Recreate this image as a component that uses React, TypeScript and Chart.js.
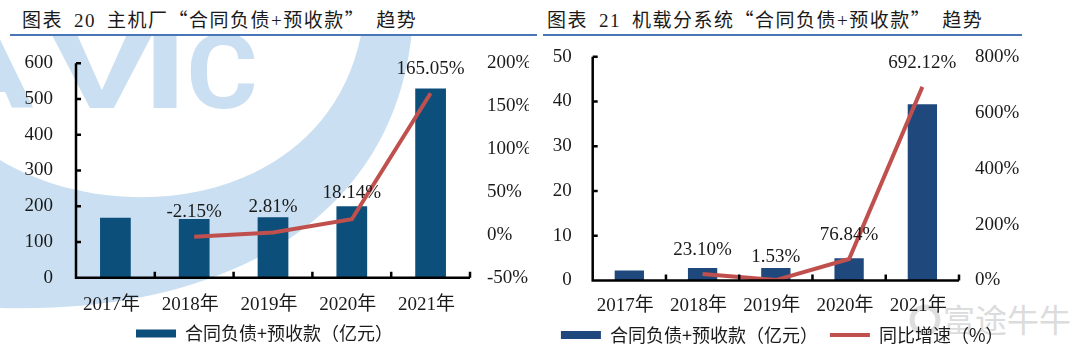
import { useEffect, useRef } from 'react';
import { Chart, registerables } from 'chart.js';

Chart.register(...registerables);

// ---------- data ----------
const years = ['2017年', '2018年', '2019年', '2020年', '2021年'];

const oemTitle = '主机厂';
const oemValues = [168.0, 164.4, 169.0, 199.7, 529.3];
const oemGrowth: (number | null)[] = [null, -2.15, 2.81, 18.14, 165.05];
const oemValueTicks = [0, 100, 200, 300, 400, 500, 600];
const oemGrowthTicks = [-50, 0, 50, 100, 150, 200];

const subTitle = '机载分系统';
const subValues = [2.25, 2.77, 2.81, 4.97, 39.4];
const subGrowth: (number | null)[] = [null, 23.1, 1.53, 76.84, 692.12];
const subValueTicks = [0, 10, 20, 30, 40, 50];
const subGrowthTicks = [0, 200, 400, 600, 800];

const barName = '合同负债+预收款（亿元）';
const lineName = '同比增速（%）';

// ---------- styles ----------
const SERIF = "'Liberation Serif', 'Noto Sans CJK SC', serif";
const CJK = "'Noto Sans CJK SC', sans-serif";
const TEXT = '#1a1a1a';
const LINE_RED = '#C0504D';

const framePlugin = {
  id: 'frame',
  afterDatasetsDraw(chart: any) {
    const { ctx, chartArea: a, scales } = chart;
    const x = scales.x;
    const y = scales.y;
    const n = chart.data.labels.length;
    const step = x.getPixelForValue(1) - x.getPixelForValue(0);
    const start = x.getPixelForValue(0) - step / 2;
    ctx.save();
    ctx.strokeStyle = '#000';
    ctx.lineWidth = 2.5;
    ctx.beginPath();
    ctx.moveTo(a.left, a.top);
    ctx.lineTo(a.left, a.bottom);
    ctx.lineTo(a.right, a.bottom);
    y.ticks.forEach((t: any) => {
      const py = y.getPixelForValue(t.value);
      ctx.moveTo(a.left, py);
      ctx.lineTo(a.left + 5, py);
    });
    for (let k = 1; k <= n; k++) {
      const px = start + k * step;
      ctx.moveTo(px, a.bottom);
      ctx.lineTo(px, a.bottom - 6);
    }
    ctx.stroke();
    ctx.restore();
  },
};

const labelPlugin = {
  id: 'growthLabels',
  afterDatasetsDraw(chart: any, _args: any, opts: any) {
    const { ctx, scales } = chart;
    const bars = chart.data.datasets[0].data;
    const growth = chart.data.datasets[1].data;
    ctx.save();
    ctx.font = `19px ${SERIF}`;
    ctx.fillStyle = TEXT;
    ctx.textAlign = 'center';
    ctx.textBaseline = 'middle';
    growth.forEach((v: number | null, i: number) => {
      if (v == null) return;
      const px = scales.x.getPixelForValue(i);
      const anchor = Math.min(scales.y.getPixelForValue(bars[i]), scales.y1.getPixelForValue(v));
      ctx.fillText(v.toFixed(2) + '%', px, anchor - (opts.lift?.[i] ?? 10));
    });
    ctx.restore();
  },
};

type Cfg = {
  values: number[];
  growth: (number | null)[];
  valueTicks: number[];
  growthTicks: number[];
  barColor: string;
  showLineLegend: boolean;
  pad: { top: number; right: number; bottom: number };
  yWidth: number;
  y1Width: number;
  yPad: number;
  y1Pad: number;
  xHeight: number;
  xPad: number;
  lift: number[];
  barPct: number;
};

const hiddenTicks = (len: number) => ({
  display: true,
  drawOnChartArea: false,
  drawTicks: true,
  tickLength: len,
  color: 'rgba(0,0,0,0)',
});

function makeConfig(c: Cfg): any {
  const tickFont = { family: SERIF, size: 19 };
  const vStep = c.valueTicks[1] - c.valueTicks[0];
  const gStep = c.growthTicks[1] - c.growthTicks[0];
  return {
    type: 'bar',
    data: {
      labels: years,
      datasets: [
        {
          type: 'bar',
          label: barName,
          data: c.values,
          backgroundColor: c.barColor,
          borderWidth: 0,
          yAxisID: 'y',
          order: 1,
          categoryPercentage: 1,
          barPercentage: c.barPct,
        },
        {
          type: 'line',
          label: lineName,
          data: c.growth,
          borderColor: LINE_RED,
          backgroundColor: LINE_RED,
          borderWidth: 4,
          pointRadius: 0,
          tension: 0,
          yAxisID: 'y1',
          order: 0,
        },
      ],
    },
    options: {
      responsive: false,
      animation: false,
      layout: { padding: { left: 0, top: c.pad.top, right: c.pad.right, bottom: c.pad.bottom } },
      scales: {
        x: {
          grid: { display: false, drawTicks: false },
          border: { display: false },
          ticks: { font: tickFont, color: TEXT, padding: c.xPad, maxRotation: 0, labelOffset: -4 },
          afterFit: (s: any) => {
            s.height = c.xHeight;
          },
        },
        y: {
          position: 'left',
          min: c.valueTicks[0],
          max: c.valueTicks[c.valueTicks.length - 1],
          grid: hiddenTicks(c.yPad),
          border: { display: false },
          ticks: { stepSize: vStep, font: tickFont, color: TEXT, padding: 0 },
          afterFit: (s: any) => {
            s.width = c.yWidth;
          },
        },
        y1: {
          position: 'right',
          min: c.growthTicks[0],
          max: c.growthTicks[c.growthTicks.length - 1],
          grid: hiddenTicks(c.y1Pad),
          border: { display: false },
          ticks: {
            stepSize: gStep,
            font: tickFont,
            color: TEXT,
            padding: 0,
            callback: (v: number) => v + '%',
          },
          afterFit: (s: any) => {
            s.width = c.y1Width;
          },
        },
      },
      plugins: {
        tooltip: { enabled: false },
        legend: {
          position: 'bottom',
          labels: {
            font: { family: CJK, size: 18 },
            color: TEXT,
            usePointStyle: true,
            pointStyleWidth: 40,
            boxHeight: 8,
            padding: 12,
            generateLabels: () => {
              const items: any[] = [
                {
                  text: barName,
                  fillStyle: c.barColor,
                  strokeStyle: c.barColor,
                  lineWidth: 0,
                  pointStyle: 'rect',
                  hidden: false,
                  datasetIndex: 0,
                  fontColor: TEXT,
                },
              ];
              if (c.showLineLegend) {
                items.push({
                  text: lineName,
                  fillStyle: LINE_RED,
                  strokeStyle: LINE_RED,
                  lineWidth: 4,
                  pointStyle: 'line',
                  hidden: false,
                  datasetIndex: 1,
                  fontColor: TEXT,
                });
              }
              return items;
            },
          },
        },
        growthLabels: { lift: c.lift },
      },
    },
    plugins: [framePlugin, labelPlugin],
  };
}

function ChartCanvas({ cfg, left }: { cfg: Cfg; left: number }) {
  const ref = useRef<HTMLCanvasElement>(null);
  useEffect(() => {
    if (!ref.current) return;
    const chart = new Chart(ref.current, makeConfig(cfg));
    return () => chart.destroy();
  }, []);
  return (
    <canvas
      ref={ref}
      width={540}
      height={321}
      style={{ position: 'absolute', left, top: 40, width: 540, height: 321 }}
    />
  );
}

const oemCfg: Cfg = {
  values: oemValues,
  growth: oemGrowth,
  valueTicks: oemValueTicks,
  growthTicks: oemGrowthTicks,
  barColor: '#0D4F7B',
  showLineLegend: false,
  pad: { top: 23.3, right: 11, bottom: 8.5 },
  yWidth: 76,
  y1Width: 59,
  yPad: 23,
  y1Pad: 17,
  xHeight: 34.8,
  xPad: 15.5,
  lift: [0, 7, 10, 13, 20],
  barPct: 0.39,
};

const subCfg: Cfg = {
  values: subValues,
  growth: subGrowth,
  valueTicks: subValueTicks,
  growthTicks: subGrowthTicks,
  barColor: '#1F497D',
  showLineLegend: true,
  pad: { top: 16.7, right: 55.6, bottom: 7 },
  yWidth: 52.7,
  y1Width: 65.4,
  yPad: 21,
  y1Pad: 16,
  xHeight: 33.5,
  xPad: 14,
  lift: [0, 18, 11, 23, 24],
  barPct: 0.4,
};

function Title({ num, name, left }: { num: string; name: string; left: number }) {
  const q = { fontFamily: CJK };
  return (
    <div
      style={{
        position: 'absolute',
        left,
        top: 8,
        height: 22,
        lineHeight: '22px',
        fontSize: 19,
        letterSpacing: 1.5,
        whiteSpace: 'nowrap',
        color: TEXT,
        fontFamily: CJK,
      }}
    >
      图表<span style={{ fontFamily: SERIF }}>{'\u2002' + num + '\u2002'}</span>
      {name}
      <span style={q}>“</span>合同负债<span style={{ fontFamily: SERIF }}>+</span>预收款<span style={q}>”</span>
      {'\u2002'}趋势
    </div>
  );
}

function Letter({ ch, cx, sx }: { ch: string; cx: number; sx: number }) {
  return (
    <text transform={`translate(${cx} 108) scale(${sx} 1)`} x={0} y={0}>
      {ch}
    </text>
  );
}

export default function App() {
  const wm = '#CADFF1';
  return (
    <div
      style={{
        position: 'absolute',
        left: 0,
        top: 0,
        width: 1080,
        height: 361,
        background: '#fff',
        overflow: 'hidden',
      }}
    >
      <svg width={1080} height={361} style={{ position: 'absolute', left: 0, top: 0 }}>
        <defs>
          <clipPath id="wmclip">
            <rect x={0} y={36} width={540} height={325} />
          </clipPath>
        </defs>
        <g clipPath="url(#wmclip)" fill={wm}>
          <path d="M 412 30 C 395 215 232 314 0 308 L 0 160 C 120 232 330 205 362 30 Z" />
          <g fontFamily="Roboto, 'DejaVu Sans', sans-serif" fontWeight={700} fontSize={104} textAnchor="middle">
            <Letter ch="A" cx={-12} sx={1.3} />
            <Letter ch="V" cx={102} sx={1.5} />
            <Letter ch="I" cx={165} sx={1.5} />
            <Letter ch="C" cx={222} sx={1.05} />
          </g>
        </g>
        <circle cx={925} cy={320} r={13} fill="none" stroke="#DEDEDE" strokeWidth={5} />
        <text x={943} y={332} fontFamily={CJK} fontSize={32} fill="#DCDCDC">
          富途牛牛
        </text>
      </svg>
      <Title num="20" name={oemTitle} left={22} />
      <Title num="21" name={subTitle} left={547} />
      <div style={{ position: 'absolute', left: 10, top: 34, width: 527, height: 1.5, background: '#4A76B8' }} />
      <div style={{ position: 'absolute', left: 543, top: 34, width: 479, height: 1.5, background: '#4A76B8' }} />
      <ChartCanvas cfg={oemCfg} left={0} />
      <ChartCanvas cfg={subCfg} left={540} />
    </div>
  );
}
